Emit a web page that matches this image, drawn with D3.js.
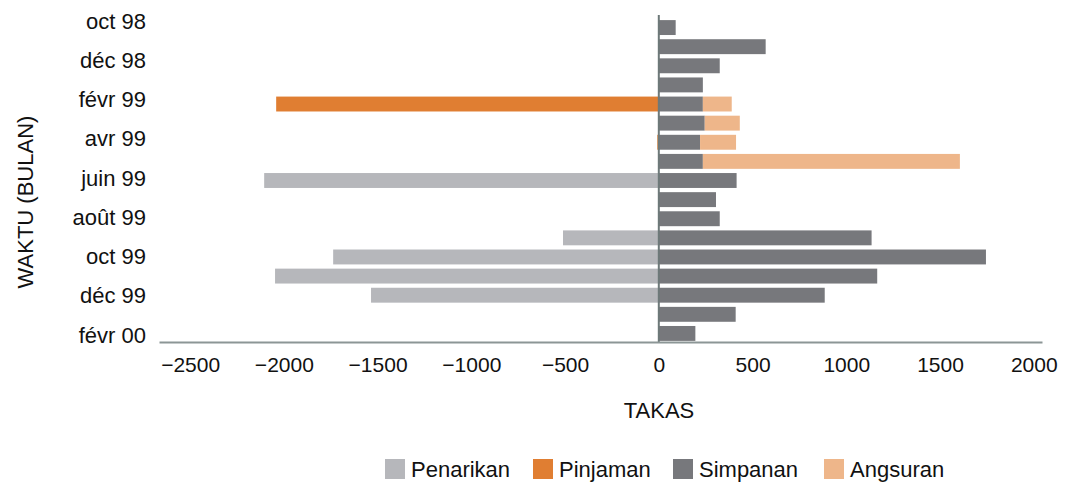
<!DOCTYPE html>
<html>
<head>
<meta charset="utf-8">
<script src="https://cdn.jsdelivr.net/npm/d3@7"></script>
<style>
  body { margin: 0; background: #fff; }
  text { font-family: "Liberation Sans", Arial, sans-serif; fill: #111; }
</style>
</head>
<body>
<svg id="chart" width="1067" height="485"></svg>
<script>
const months = ["oct 98","nov 98","déc 98","janv 99","févr 99","mars 99","avr 99","mai 99","juin 99","juil 99","août 99","sept 99","oct 99","nov 99","déc 99","janv 00","févr 00"];
const monthLabels = ["oct 98","déc 98","févr 99","avr 99","juin 99","août 99","oct 99","déc 99","févr 00"];
const seriesNames = ["Penarikan","Pinjaman","Simpanan","Angsuran"];
const penarikan = [0,0,0,0,0,0,0,0,-2105,0,0,-511,-1737,-2047,-1535,0,0];
const pinjaman  = [0,0,0,0,-2041,0,-8,0,0,0,0,0,0,0,0,0,0];
const simpanan  = [90,570,325,235,235,245,220,235,415,305,325,1135,1745,1165,885,410,195];
const angsuran  = [0,0,0,0,154,187,192,1371,0,0,0,0,0,0,0,0,0];
const xTicks = [-2500,-2000,-1500,-1000,-500,0,500,1000,1500,2000];
const colors = ["#b6b7bb","#e07e32","#77787c","#eeb68a"];

const rows = months.map((m,i)=>({month:m, Penarikan:penarikan[i], Pinjaman:pinjaman[i], Simpanan:simpanan[i], Angsuran:angsuran[i]}));
const stacked = d3.stack().keys(seriesNames).offset(d3.stackOffsetDiverging)(rows);

const svg = d3.select("#chart");
const x = d3.scaleLinear().domain([-2666, 2044]).range([159, 1042]);
const y = d3.scaleBand().domain(months).range([18, 343]).paddingInner(0.22).paddingOuter(0.11);
const yLab = d3.scalePoint().domain(monthLabels).range([21, 335]);
const color = d3.scaleOrdinal().domain(seriesNames).range(colors);

svg.append("g").selectAll("g").data(stacked).join("g")
  .attr("fill", d => color(d.key))
  .selectAll("rect").data(d => d.map(v => ({v, m: v.data.month}))).join("rect")
  .attr("x", d => x(Math.min(d.v[0], d.v[1])))
  .attr("width", d => Math.abs(x(d.v[1]) - x(d.v[0])))
  .attr("y", d => y(d.m))
  .attr("height", y.bandwidth());

// zero line
svg.append("line")
  .attr("x1", x(0)).attr("x2", x(0)).attr("y1", 15).attr("y2", 343)
  .attr("stroke", "#6d7979").attr("stroke-width", 2);

// x axis
const xAxis = d3.axisBottom(x).tickValues(xTicks).tickFormat(d3.format("d")).tickSize(0).tickPadding(15);
const gx = svg.append("g").attr("transform", "translate(0,342)").call(xAxis);
gx.select(".domain").attr("stroke", "#8c9696").attr("stroke-width", 2);
gx.selectAll("text").style("font-size", "21px").style("font-family", "'Liberation Sans', Arial, sans-serif").attr("fill", "#111");

// y labels
const yAxis = d3.axisLeft(yLab).tickSize(0).tickPadding(0);
const gy = svg.append("g").attr("transform", "translate(146,0)").call(yAxis);
gy.select(".domain").remove();
gy.selectAll("text").style("font-size", "22px").style("font-family", "'Liberation Sans', Arial, sans-serif").attr("fill", "#111");

// titles
svg.append("text").attr("x", 659).attr("y", 418).attr("text-anchor", "middle")
  .style("font-size", "22px").text("TAKAS");
svg.append("text").attr("transform", "translate(33,202) rotate(-90)").attr("text-anchor", "middle")
  .style("font-size", "22px").text("WAKTU (BULAN)");

// legend
const legendX = [385, 533, 673, 824];
const lg = svg.append("g").selectAll("g").data(seriesNames).join("g")
  .attr("transform", (d,i) => `translate(${legendX[i]},459)`);
lg.append("rect").attr("width", 20).attr("height", 20).attr("fill", d => color(d));
lg.append("text").attr("x", 26).attr("y", 18).style("font-size", "22px").text(d => d);
</script>
</body>
</html>
